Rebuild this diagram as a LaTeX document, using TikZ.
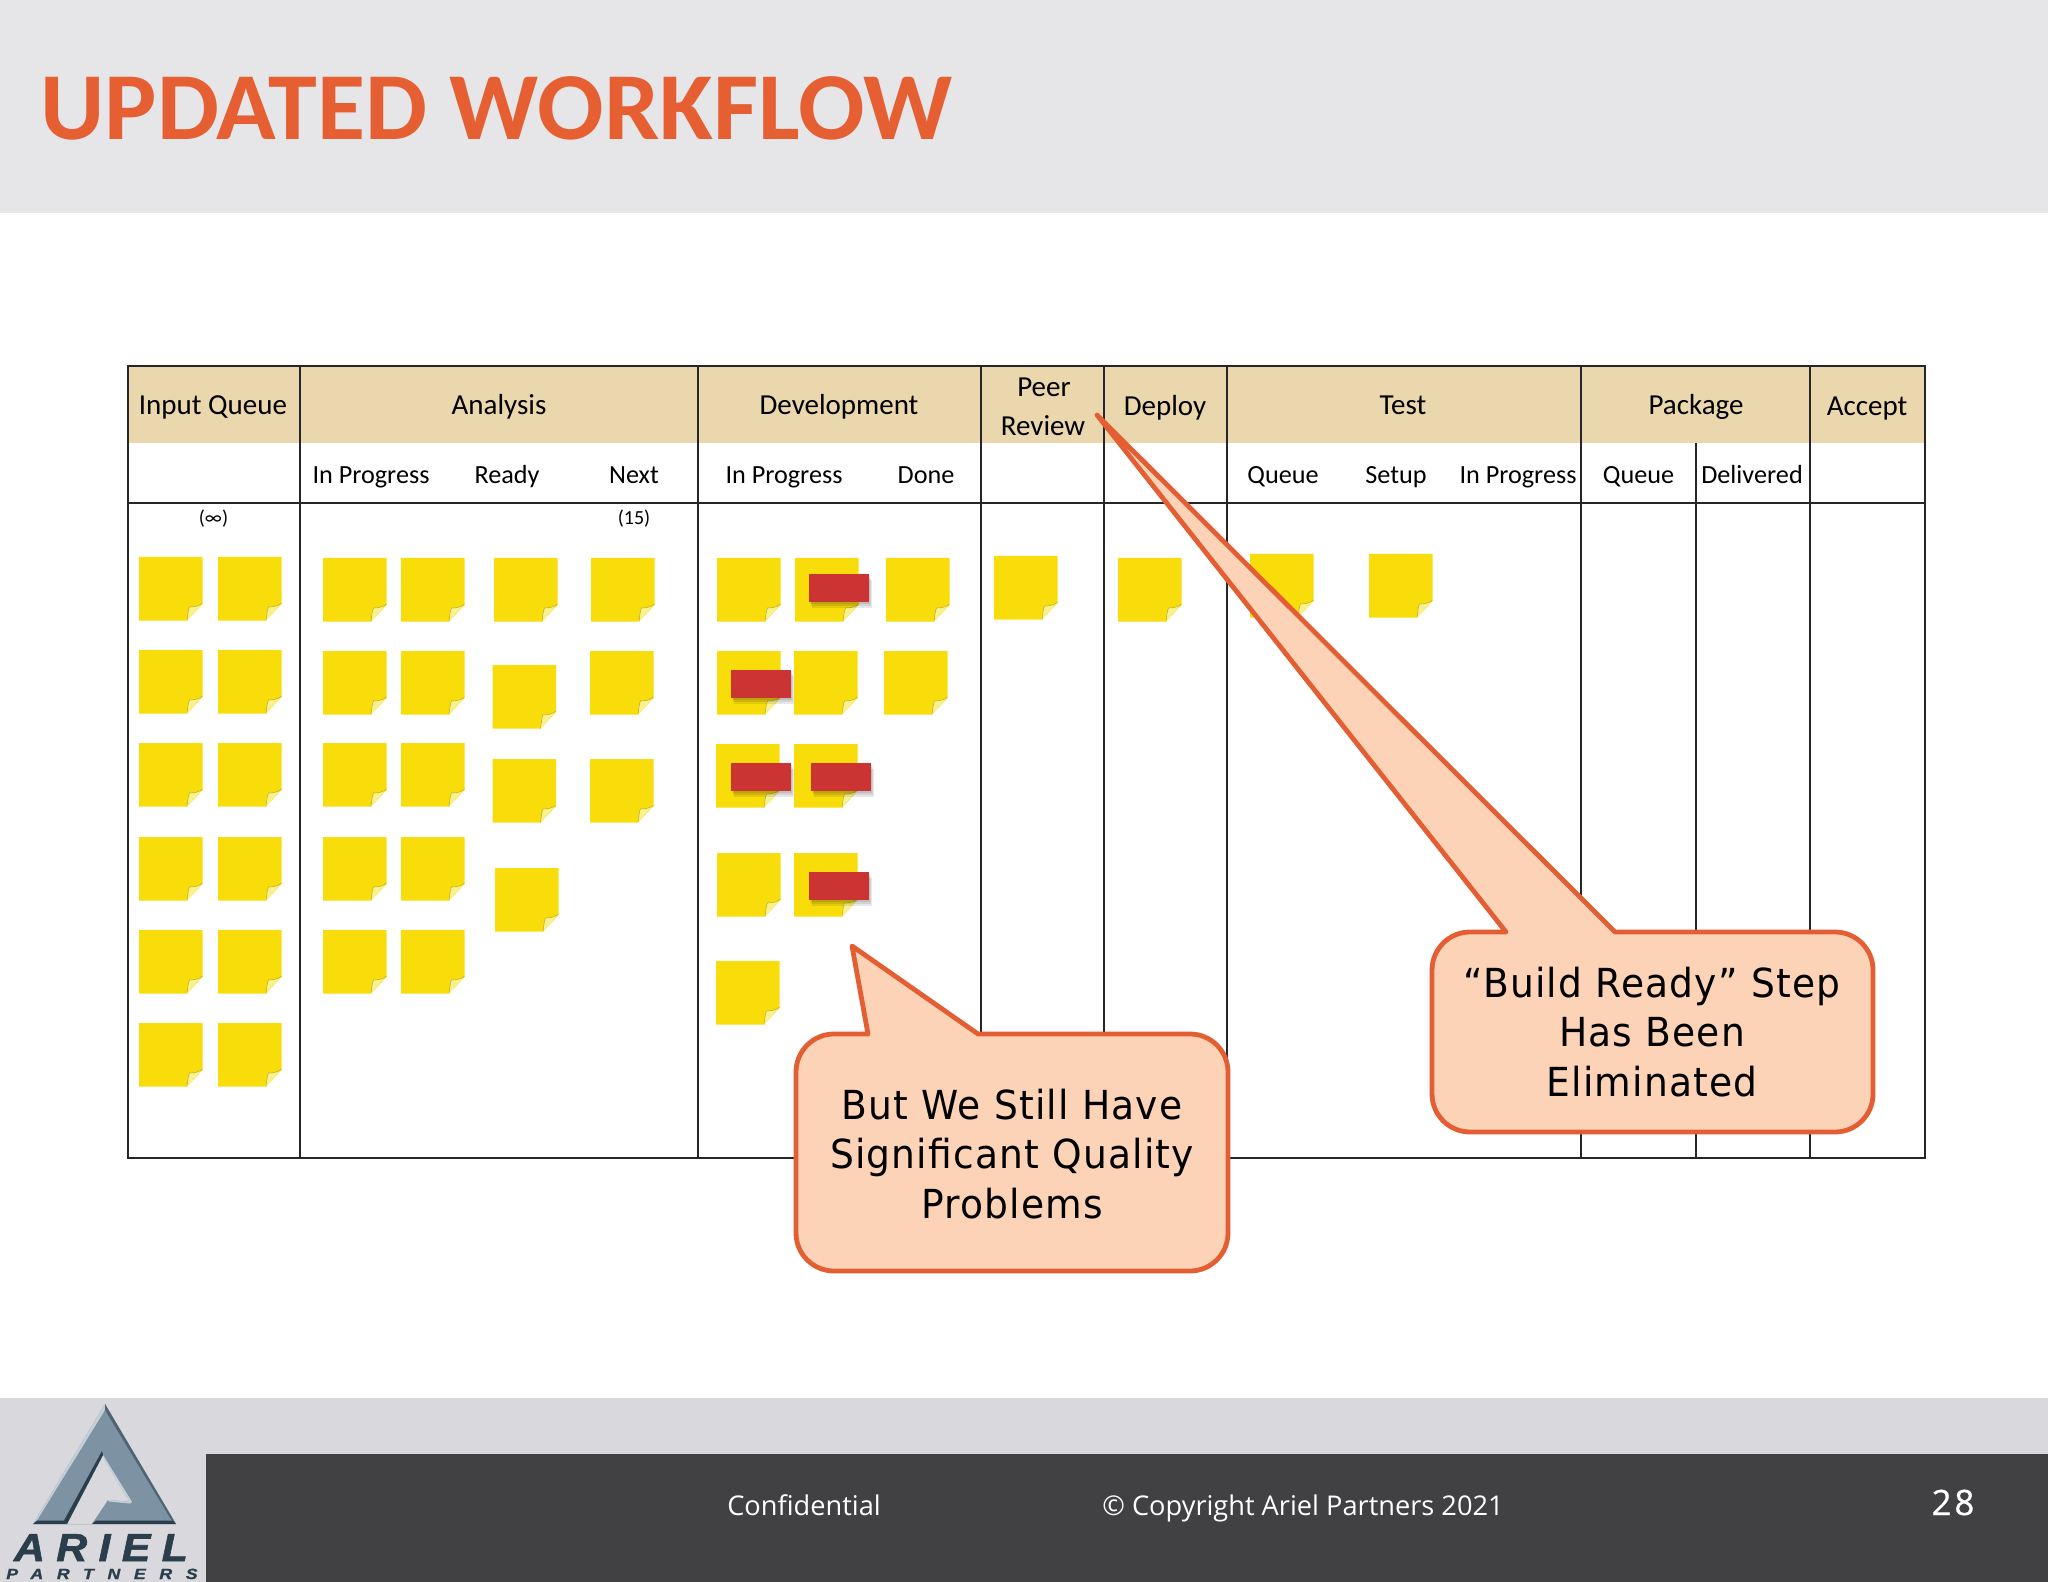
\documentclass[tikz,border=0pt]{standalone}
\usepackage{fontspec}
\setmainfont{Carlito}
\newfontfamily\callfont{Open Sans}
\newfontfamily\bubblefont{DejaVu Sans}
\newfontfamily\logofont{Liberation Sans}
\usetikzlibrary{calc}
\definecolor{topband}{HTML}{E6E6E8}
\definecolor{titleorange}{HTML}{E55F33}
\definecolor{footband}{HTML}{D9D8DC}
\definecolor{footdark}{HTML}{414042}
\definecolor{headtan}{HTML}{EAD7AD}
\definecolor{gridink}{HTML}{262628}
\definecolor{noteyellow}{HTML}{F9DD0B}
\definecolor{notefold}{HTML}{F8F190}
\definecolor{noteedge}{HTML}{B5AB22}
\definecolor{redtag}{HTML}{CC3333}
\definecolor{callfill}{HTML}{FCD3B6}
\definecolor{callline}{HTML}{E35F33}
\definecolor{logomid}{HTML}{7D93A3}
\definecolor{logodark}{HTML}{2A3E4C}
\definecolor{logolight}{HTML}{C4D0D8}
\tikzset{
  gridline/.style={draw=gridink,line width=1pt},
  headtext/.style={font=\fontsize{14.5}{16}\selectfont,text=black,inner sep=0pt,anchor=base},
  subtext/.style={font=\fontsize{13.1}{15}\selectfont,text=black,inner sep=0pt,anchor=base},
  wiptext/.style={font=\fontsize{10}{11}\selectfont,text=black,inner sep=0pt,anchor=base},
  callout/.style={draw=callline,fill=callfill,line width=2.4pt,line join=round},
  calltext/.style={font=\bubblefont\fontsize{20}{24.7}\selectfont\addfontfeature{FakeStretch=0.94,LetterSpace=3},text=black,inner sep=0pt,align=center},
  foottext/.style={font=\callfont\fontsize{13.6}{16}\selectfont,text=white,inner sep=0pt,anchor=base},
  redflag/.style={fill=redtag},
  redshade/.style={fill=black,opacity=.09},
}
\newcommand{\stickynote}[2]{%
  \fill[noteyellow] (#1,#2) -- ++(63.5,0) -- ++(0,47) -- ++(-15.5,16.5) -- ++(-48,0) -- cycle;
  \fill[notefold] ($(#1,#2)+(48,63.5)$) .. controls ($(#1,#2)+(49,57)$) and ($(#1,#2)+(49,53)$) .. ($(#1,#2)+(50.5,50)$)
     .. controls ($(#1,#2)+(56,50)$) and ($(#1,#2)+(60,49)$) .. ($(#1,#2)+(63.5,46)$) -- cycle;
  \draw[noteedge,line width=.25pt] ($(#1,#2)+(48,63.5)$) .. controls ($(#1,#2)+(49,57)$) and ($(#1,#2)+(49,53)$) .. ($(#1,#2)+(50.5,50)$)
     .. controls ($(#1,#2)+(56,50)$) and ($(#1,#2)+(60,49)$) .. ($(#1,#2)+(63.5,46)$);
}
\newcommand{\redtag}[2]{%
  \fill[redshade] ($(#1,#2)+(1,2)$) rectangle ++(60,28);
  \fill[redshade] ($(#1,#2)+(2,4)$) rectangle ++(60,28);
  \fill[redshade] ($(#1,#2)+(3,6)$) rectangle ++(60,28);
  \fill[redflag] (#1,#2) rectangle ++(60,28);
}
\begin{document}
\begin{tikzpicture}[x=0.5pt,y=-0.5pt]
\useasboundingbox (0,0) rectangle (2048,1582);
\fill[white] (0,0) rectangle (2048,1582);
% top band and title
\fill[topband] (0,0) rectangle (2048,213);
\node[anchor=west,inner sep=0pt,text=titleorange,font=\bfseries\fontsize{48}{50}\selectfont\addfontfeature{FakeStretch=1.025}] (title) at (40,108) {UPDATED WORKFLOW};
% footer
\fill[footband] (0,1398) rectangle (2048,1582);
\fill[footdark] (205.5,1454) rectangle (2048,1582);
\node[foottext] (conf) at (804,1515) {Confidential};
\node[foottext] (copy) at (1303,1515) {© Copyright Ariel Partners 2021};
\node[foottext,font=\callfont\fontsize{17.5}{20}\selectfont\addfontfeature{LetterSpace=8,FakeBold=0.6}] (pageno) at (1953,1515) {28};
% logo
\fill[logomid] (105,1404) -- (176,1524) -- (92,1524) -- (108,1500) -- (132,1502) -- (103,1455) -- (67,1524) -- (33,1524) -- cycle;
\fill[logolight] (105,1404) -- (33,1524) -- (36,1522) -- (105,1410) -- cycle;
\fill[logodark!55!logomid] (105,1404) -- (176,1524) -- (172,1521) -- (105,1410) -- cycle;
\fill[logodark] (33,1524) -- (176,1524) -- (172,1520.5) -- (96,1520.5) -- (92,1524) -- (67,1524) -- (64,1520.5) -- (37,1520.5) -- cycle;
\fill[logodark] (103,1455) -- (67,1524) -- (64,1520.5) -- (102,1451) -- cycle;
\fill[logolight] (103,1455) -- (132,1502) -- (128,1500) -- (104,1460) -- cycle;
\fill[logolight] (108,1500) -- (132,1502) -- (130,1503.5) -- (109,1501.5) -- cycle;
\node[inner sep=0pt,anchor=base,text=logodark,font=\logofont\bfseries\itshape\fontsize{19.5}{22}\selectfont\addfontfeature{FakeStretch=1.1,FakeBold=1.5,LetterSpace=29}] (ariel) at (101,1561) {ARIEL};
\node[inner sep=0pt,anchor=base,text=logodark,font=\logofont\bfseries\itshape\fontsize{7.4}{9}\selectfont\addfontfeature{FakeStretch=1.2,FakeBold=1,LetterSpace=92}] (partners) at (102,1579) {PARTNERS};
% table
\fill[headtan] (128,366) rectangle (1925,443);
\draw[gridline] (128,366.5) rectangle (1925,1157.5);
\draw[gridline] (128,503) -- (1925,503);
\foreach \gx in {300,697.5,981,1104,1227,1580.5,1810} \draw[gridline] (\gx,366) -- (\gx,1157);
\draw[gridline] (1695.5,443) -- (1695.5,1157);
% column heads
\node[headtext] (hInput) at (213,415) {Input Queue};
\node[headtext] (hAnalysis) at (499,415) {Analysis};
\node[headtext] (hDev) at (839,415) {Development};
\node[headtext] (hPeerA) at (1044,397) {Peer};
\node[headtext] (hPeerB) at (1043,436) {Review};
\node[headtext] (hDeploy) at (1165,416) {Deploy};
\node[headtext] (hTest) at (1403,415) {Test};
\node[headtext] (hPackage) at (1696,415) {Package};
\node[headtext] (hAccept) at (1867,415.5) {Accept};
% sub heads
\node[subtext] (s1) at (371,483.5) {In Progress};
\node[subtext] (s2) at (507,483.5) {Ready};
\node[subtext] (s3) at (634,483.5) {Next};
\node[subtext] (s4) at (784,483.5) {In Progress};
\node[subtext] (s5) at (926,483.5) {Done};
\node[subtext] (s6) at (1283,483.5) {Queue};
\node[subtext] (s7) at (1396,483.5) {Setup};
\node[subtext] (s8) at (1518,483.5) {In Progress};
\node[subtext] (s9) at (1638.5,483.5) {Queue};
\node[subtext] (s10) at (1752,483.5) {Delivered};
\node[wiptext] (w1) at (213.5,524.5) {(∞)};
\node[wiptext] (w2) at (634,524.5) {(15)};
% input queue notes
\foreach \ny in {557,650,743,837,930,1023} {\stickynote{139}{\ny}\stickynote{218}{\ny}}
% analysis
\foreach \ny in {558,651,743,837,930} {\stickynote{323}{\ny}\stickynote{401}{\ny}}
\stickynote{494}{558}\stickynote{492.5}{665}\stickynote{492.5}{759}\stickynote{495}{868}
\stickynote{591}{558}\stickynote{590}{651}\stickynote{590}{759}
% development
\stickynote{717}{558}\stickynote{795}{558}\stickynote{886}{558}
\stickynote{717}{651}\stickynote{794}{651}\stickynote{884}{651}
\stickynote{716}{744}\stickynote{794}{744}
\stickynote{717}{853}\stickynote{794}{853}
\stickynote{716}{961}
% red tags
\redtag{809}{574}\redtag{731}{670}\redtag{731}{763}\redtag{811}{763}\redtag{809}{872}
% later columns
\stickynote{994}{556}\stickynote{1118}{558}\stickynote{1250}{554}\stickynote{1369}{554}
% callouts
\path[callout] (978,1034) [rounded corners=19pt] -- (1228,1034) -- (1228,1271) -- (796,1271) -- (796,1034) [sharp corners] -- (868,1034) -- (852,946) -- cycle;
\node[calltext] (c1) at (1012,1154) {But We Still Have\\Significant Quality\\Problems};
\path[callout] (1615,932) [rounded corners=19pt] -- (1873,932) -- (1873,1132) -- (1432,1132) -- (1432,932) [sharp corners] -- (1506,932) -- (1097,415) -- cycle;
\node[calltext] (c2) at (1652,1032) {“Build Ready” Step\\Has Been\\Eliminated};
\end{tikzpicture}
\end{document}
